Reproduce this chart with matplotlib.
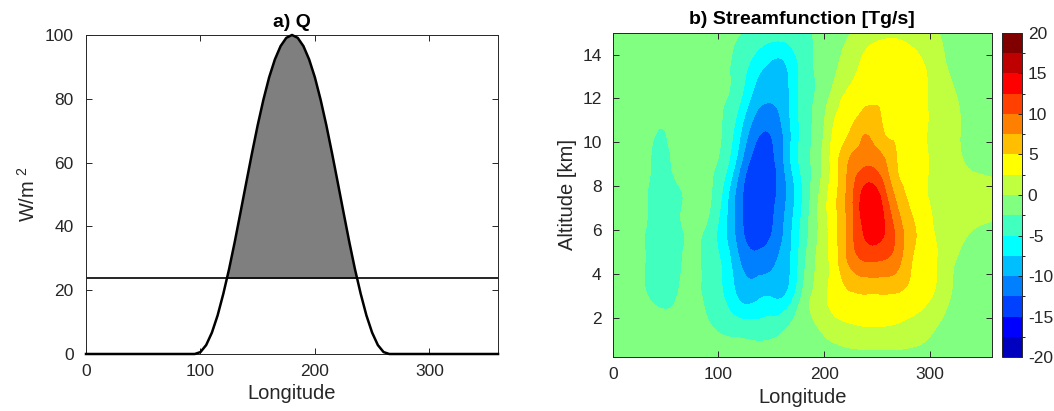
import numpy as np
import matplotlib
matplotlib.use("Agg")
import matplotlib.pyplot as plt
import matplotlib.tri as mtri
from matplotlib.colors import ListedColormap, BoundaryNorm

plt.rcParams['font.family'] = ['Liberation Sans', 'DejaVu Sans']
plt.rcParams['mathtext.fontset'] = 'custom'
plt.rcParams['mathtext.rm'] = 'Liberation Sans'
plt.rcParams['axes.unicode_minus'] = False

# ---- panel a: heating Q vs longitude ----
q_lon = [0, 95, 100, 105, 110, 115, 120, 125, 130, 135, 140, 145, 150, 155,
         160, 165, 170, 175, 180, 185, 190, 195, 200, 205, 210, 215, 220, 225,
         230, 235, 240, 245, 250, 255, 260, 265, 360]
q_val = [0, 0, 0.6, 2.8, 6.7, 12.1, 18.9, 26.6, 35.2, 44.4, 53.7, 62.9, 71.7,
         79.7, 86.7, 92.3, 96.5, 99.1, 100, 99.1, 96.5, 92.3, 86.7, 79.7, 71.7,
         62.9, 53.7, 44.4, 35.2, 26.6, 18.9, 12.1, 6.7, 2.8, 0.6, 0, 0]
q_thresh = 23.7

# ---- panel b: streamfunction [Tg/s], rows = altitude, cols = longitude ----
psi_lon = [0, 15, 30, 45, 60, 75, 90, 105, 120, 135, 150, 165, 180, 195, 210,
           225, 240, 255, 270, 285, 300, 315, 330, 345, 360]
psi_alt = [0, 1.5, 3, 4.5, 6, 7.5, 9, 10.5, 12, 13.5, 15]
psi = [
    [-1.2, -1.2, -1.2, -1.2, -1.2, -1.2, -1.2, -1.1, -1.0, -1.0, -1.0, -1.1, -1.2,
     -1.3, -1.4, -1.5, -1.5, -1.5, -1.5, -1.4, -1.3, -1.2, -1.2, -1.2, -1.2],
    [-1.3, -1.3, -1.5, -1.8, -1.7, -1.6, -2.2, -2.9, -3.5, -3.8, -3.5, -2.4, -1.5,
     0.0, 1.3, 2.0, 2.3, 2.3, 2.1, 1.5, 0.4, -0.6, -1.0, -1.1, -1.2],
    [-1.3, -1.4, -2.3, -3.0, -2.6, -1.9, -3.1, -5.0, -8.0, -8.2, -7.7, -7.0, -2.0,
     1.2, 3.6, 4.6, 4.8, 4.8, 4.6, 4.0, 2.8, 0.6, -0.8, -1.1, -1.2],
    [-1.3, -1.4, -2.45, -3.5, -3.1, -1.9, -3.4, -5.6, -9.8, -11.4, -10.5, -8.3, -3.3,
     0.6, 3.9, 8.0, 9.8, 9.6, 8.0, 4.6, 3.1, 1.2, -0.6, -1.0, -1.1],
    [-1.3, -1.4, -2.4, -3.6, -3.2, -1.9, -3.1, -6.7, -11.5, -14.0, -12.7, -9.0, -4.1,
     0.2, 4.2, 8.9, 13.2, 12.9, 8.8, 5.3, 2.9, 1.6, 0.4, -0.1, -0.3],
    [-1.3, -1.3, -2.2, -3.5, -3.0, -1.9, -2.1, -5.8, -11.6, -14.5, -13.4, -9.8, -4.8,
     0.1, 4.4, 9.1, 14.0, 11.8, 6.6, 3.9, 2.4, 1.7, 1.2, 0.9, 0.7],
    [-1.3, -1.3, -1.8, -3.2, -2.0, -1.6, -1.9, -3.8, -9.4, -13.8, -13.4, -8.9, -4.1,
     -0.7, 3.9, 8.0, 9.8, 8.4, 4.8, 3.6, 2.4, 1.3, 0.2, -0.4, -0.6],
    [-1.3, -1.3, -1.6, -2.6, -1.6, -1.6, -1.9, -2.8, -7.0, -11.6, -12.2, -8.7, -4.0,
     -1.2, 3.0, 5.1, 7.3, 5.2, 4.6, 3.6, 2.3, 1.2, -0.1, -0.7, -0.8],
    [-1.3, -1.3, -1.4, -1.7, -1.5, -1.6, -1.9, -2.3, -4.6, -8.6, -9.7, -8.0, -4.0,
     -1.8, 1.2, 3.4, 4.3, 4.6, 4.4, 3.8, 2.3, 1.0, -0.3, -0.8, -0.9],
    [-1.3, -1.3, -1.3, -1.4, -1.4, -1.6, -1.8, -2.1, -3.6, -6.2, -8.0, -7.4, -3.9,
     -2.1, -0.4, 1.5, 3.3, 4.0, 3.9, 3.2, 2.0, 0.1, -0.8, -1.0, -1.0],
    [-1.3, -1.3, -1.3, -1.4, -1.4, -1.5, -1.7, -2.0, -2.4, -3.0, -3.6, -3.3, -3.0,
     -2.0, -1.0, 0.0, 1.5, 2.0, 2.1, 1.6, 0.8, -0.5, -1.0, -1.0, -1.0],
]
psi_levels = [-20, -17.5, -15, -12.5, -10, -7.5, -5, -2.5, 0, 2.5, 5, 7.5,
              10, 12.5, 15, 17.5, 20]
cbar_ticks = [-20, -15, -10, -5, 0, 5, 10, 15, 20]

# MATLAB jet(16)
jet16 = [(0, 0, 0.75), (0, 0, 1), (0, 0.25, 1), (0, 0.5, 1), (0, 0.75, 1),
         (0, 1, 1), (0.25, 1, 0.75), (0.5, 1, 0.5), (0.75, 1, 0.25), (1, 1, 0),
         (1, 0.75, 0), (1, 0.5, 0), (1, 0.25, 0), (1, 0, 0), (0.75, 0, 0),
         (0.5, 0, 0)]
cmap = ListedColormap(jet16)
norm = BoundaryNorm(psi_levels, cmap.N)

axcol = '#262626'


def style(ax, ypad):
    ax.tick_params(direction='in', top=True, right=True, length=4, width=0.7,
                   labelsize=12.5, colors=axcol)
    ax.tick_params(axis='x', pad=7)
    ax.tick_params(axis='y', pad=ypad)
    for s in ax.spines.values():
        s.set_color(axcol)
        s.set_linewidth(0.7)


fig = plt.figure(figsize=(10.54, 4.11), dpi=100)

# panel a
ax1 = fig.add_axes([0.0816, 0.1387, 0.3909, 0.7762])
qv = np.array(q_val)
ax1.fill_between(q_lon, qv, q_thresh, where=qv >= q_thresh, interpolate=True,
                 color='#7f7f7f', linewidth=0)
ax1.plot(q_lon, qv, color='k', lw=1.8, clip_on=False, zorder=3)
ax1.axhline(q_thresh, color='k', lw=1.2)
ax1.set_xlim(0, 360)
ax1.set_ylim(0, 100)
ax1.set_xticks([0, 100, 200, 300])
ax1.set_yticks([0, 20, 40, 60, 80, 100])
style(ax1, 9)
ax1.set_xlabel('Longitude', fontsize=14.5, color=axcol)
ax1.set_ylabel(r'W/m$^{\ 2}$', fontsize=14.5, color=axcol, labelpad=4)
ax1.set_title('a) Q', fontsize=14, fontweight='bold', pad=6)

# panel b
ax2 = fig.add_axes([0.5813, 0.1307, 0.3596, 0.7898])
lon_g, alt_g = np.meshgrid(psi_lon, psi_alt)
stretch = 10.0  # make grid cells square for the interpolator
tri = mtri.Triangulation(lon_g.ravel(), alt_g.ravel() * stretch)
interp = mtri.CubicTriInterpolator(tri, np.array(psi).ravel(), kind='min_E')
lon_f, alt_f = np.meshgrid(np.linspace(0, 359.999, 361), np.linspace(0.001, 14.999, 301))
psi_f = interp(lon_f, alt_f * stretch)
cs = ax2.contourf(lon_f, alt_f, psi_f, levels=psi_levels, cmap=cmap, norm=norm)
ax2.set_xlim(0, 358.5)
ax2.set_ylim(0.2, 15)
ax2.set_xticks([0, 100, 200, 300])
ax2.set_yticks([2, 4, 6, 8, 10, 12, 14])
style(ax2, 8)
ax2.set_xlabel('Longitude', fontsize=14.5, color=axcol)
ax2.set_ylabel('Altitude [km]', fontsize=14.5, color=axcol, labelpad=4)
ax2.set_title('b) Streamfunction [Tg/s]', fontsize=14, fontweight='bold', pad=6)

cax = fig.add_axes([0.9504, 0.1307, 0.0195, 0.7898])
cb = fig.colorbar(cs, cax=cax, ticks=cbar_ticks)
cb.ax.tick_params(direction='in', length=3, width=0.7, labelsize=12.5,
                  colors=axcol, pad=4)
cb.outline.set_edgecolor(axcol)
cb.outline.set_linewidth(0.7)

fig.savefig('out.png', dpi=100)
